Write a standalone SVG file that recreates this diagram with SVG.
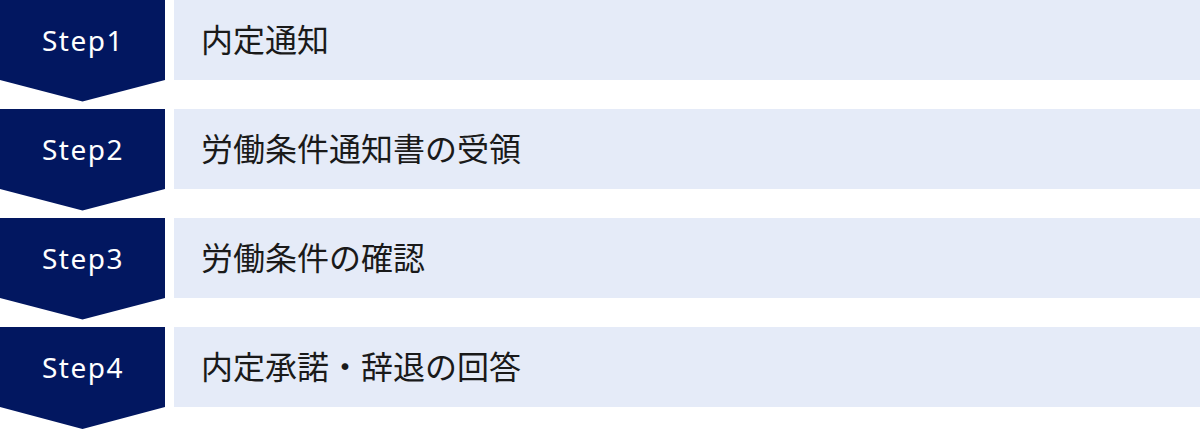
<svg xmlns="http://www.w3.org/2000/svg" width="1200" height="429" viewBox="0 0 1200 429">
<defs>
<style>
.step{fill:#021760}
.bar{fill:#E5EBF8}
.lbl{font-family:"Noto Sans","Noto Sans CJK JP",sans-serif;font-size:28px;fill:#ffffff;letter-spacing:1.5px}
.txt{font-family:"Noto Sans CJK JP","Noto Sans",sans-serif;font-size:32px;fill:#1a1a1a}
</style>
</defs>
<rect width="1200" height="429" fill="#ffffff"/>
<g id="step1">
<path class="step" d="M0 0H165V80L82.5 101.5L0 80Z"/>
<rect class="bar" x="174" y="0" width="1026" height="80"/>
<text class="lbl" x="83" y="51" text-anchor="middle">Step1</text>
<text class="txt" x="201" y="52">内定通知</text>
</g>
<g id="step2">
<path class="step" d="M0 109H165V189L82.5 210.5L0 189Z"/>
<rect class="bar" x="174" y="109" width="1026" height="80"/>
<text class="lbl" x="83" y="160" text-anchor="middle">Step2</text>
<text class="txt" x="201" y="161">労働条件通知書の受領</text>
</g>
<g id="step3">
<path class="step" d="M0 218H165V298L82.5 319.5L0 298Z"/>
<rect class="bar" x="174" y="218" width="1026" height="80"/>
<text class="lbl" x="83" y="269" text-anchor="middle">Step3</text>
<text class="txt" x="201" y="270">労働条件の確認</text>
</g>
<g id="step4">
<path class="step" d="M0 327H165V407L82.5 429L0 407Z"/>
<rect class="bar" x="174" y="327" width="1026" height="80"/>
<text class="lbl" x="83" y="378" text-anchor="middle">Step4</text>
<text class="txt" x="201" y="379">内定承諾・辞退の回答</text>
</g>
<g id="connectors"/>
</svg>
